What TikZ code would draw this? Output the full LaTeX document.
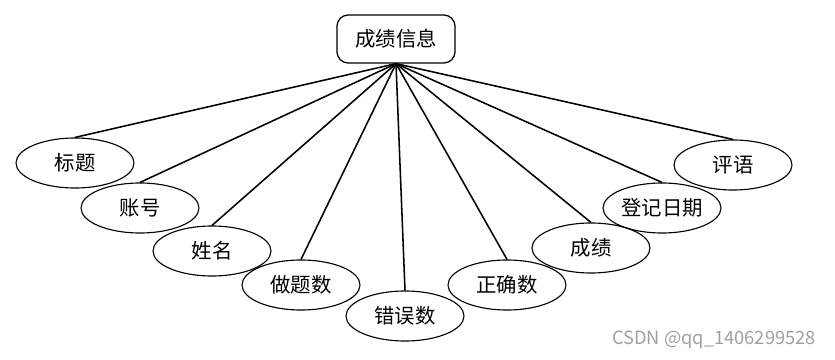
\documentclass[tikz,border=0pt]{standalone}
\usepackage{fontspec}
\usepackage{xcolor}
\usepackage{tikz}
\usetikzlibrary{shapes.geometric}
\newfontfamily\cjk{Noto Sans CJK SC}
\definecolor{mark}{HTML}{A0A0A0}

\begin{document}
\begin{tikzpicture}[x=0.025cm,y=-0.025cm,
  ent/.style={draw,rounded corners=8pt,line width=0.9pt,minimum width=2.95cm,minimum height=1.2cm,inner sep=0pt,font=\cjk\fontsize{14.5pt}{16pt}\selectfont},
  attr/.style={ellipse,draw,line width=0.8pt,minimum width=2.95cm,minimum height=1.25cm,inner sep=0pt,font=\cjk\fontsize{14.5pt}{16pt}\selectfont},
  link/.style={line width=1.1pt,draw=black}]
\useasboundingbox (0,0) rectangle (835,360);
% entity
\node[ent] (info) at (396,39) {成绩信息};
% attributes
\foreach \i/\lab/\px/\py in {1/标题/75/163,2/账号/140/208,3/姓名/212/251,4/做题数/301/285,
                              5/错误数/405/316,6/正确数/507/285,7/成绩/591/248,8/登记日期/662/208,9/评语/733/165}{
  \node[attr] (a\i) at (\px,\py) {\lab};
}
% links
\foreach \i in {1,...,9}{
  \draw[link] (info.south) -- (a\i.north);
}
% watermark
\node[font=\cjk\fontsize{13pt}{15pt}\selectfont,text=mark] (wm) at (714,340) {CSDN @qq\_1406299528};
\end{tikzpicture}
\end{document}
